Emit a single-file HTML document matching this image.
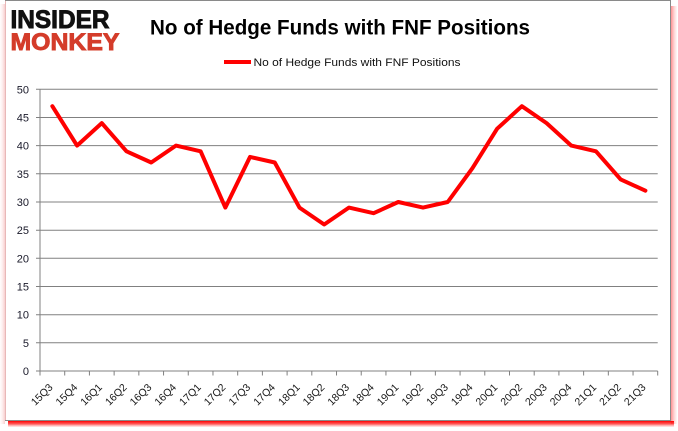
<!DOCTYPE html>
<html><head><meta charset="utf-8"><style>
html,body{margin:0;padding:0;background:#fff;}
svg{display:block;}
</style></head><body>
<svg width="678" height="431" viewBox="0 0 678 431" xmlns="http://www.w3.org/2000/svg" font-family="'Liberation Sans', sans-serif">
<defs>
<linearGradient id="sb" x1="0" y1="0" x2="0" y2="1">
<stop offset="0" stop-color="#ff0000" stop-opacity="1"/>
<stop offset="0.5" stop-color="#ff3030" stop-opacity="0.8"/>
<stop offset="1" stop-color="#ff8080" stop-opacity="0.15"/>
</linearGradient>
<linearGradient id="sr" x1="0" y1="0" x2="1" y2="0">
<stop offset="0" stop-color="#ff6060" stop-opacity="0.7"/>
<stop offset="1" stop-color="#ffb0b0" stop-opacity="0.1"/>
</linearGradient>
<linearGradient id="sl" x1="1" y1="0" x2="0" y2="0">
<stop offset="0" stop-color="#f7c8c8" stop-opacity="0.9"/>
<stop offset="1" stop-color="#fff0f0" stop-opacity="0.2"/>
</linearGradient>
</defs>
<rect x="0" y="0" width="678" height="431" fill="#fff"/>
<!-- shadows -->
<rect x="0" y="4" width="5" height="420" fill="url(#sl)"/>
<rect x="671" y="6" width="6" height="418" fill="url(#sr)"/>
<rect x="8" y="421" width="666" height="6" fill="url(#sb)"/>
<!-- frame -->
<rect x="5.5" y="0.5" width="665" height="420" fill="#fff" stroke="#8a8a8a" stroke-width="1"/>
<line x1="5.5" y1="1" x2="5.5" y2="420" stroke="#e8b8b8" stroke-width="1"/>

<!-- logo -->
<text x="10.5" y="28" font-size="25" font-weight="bold" fill="#111" stroke="#111" stroke-width="0.9" textLength="99" lengthAdjust="spacingAndGlyphs">INSIDER</text>
<text x="10.5" y="50" font-size="24" font-weight="bold" fill="#d43c2a" stroke="#d43c2a" stroke-width="0.9" textLength="109" lengthAdjust="spacingAndGlyphs">MONKEY</text>

<!-- title -->
<text x="150" y="34.5" font-size="21" font-weight="bold" fill="#000" textLength="380" lengthAdjust="spacingAndGlyphs">No of Hedge Funds with FNF Positions</text>

<!-- legend -->
<line x1="224" y1="62" x2="251" y2="62" stroke="#ff0000" stroke-width="4"/>
<text x="253.5" y="66" font-size="11" fill="#111" textLength="207" lengthAdjust="spacingAndGlyphs">No of Hedge Funds with FNF Positions</text>

<!-- gridlines -->
<g stroke="#808080" stroke-width="1">
<line x1="36" y1="342.8" x2="657.7" y2="342.8"/>
<line x1="36" y1="314.7" x2="657.7" y2="314.7"/>
<line x1="36" y1="286.5" x2="657.7" y2="286.5"/>
<line x1="36" y1="258.3" x2="657.7" y2="258.3"/>
<line x1="36" y1="230.2" x2="657.7" y2="230.2"/>
<line x1="36" y1="202.0" x2="657.7" y2="202.0"/>
<line x1="36" y1="173.8" x2="657.7" y2="173.8"/>
<line x1="36" y1="145.6" x2="657.7" y2="145.6"/>
<line x1="36" y1="117.5" x2="657.7" y2="117.5"/>
<line x1="36" y1="89.3" x2="657.7" y2="89.3"/>
<line x1="36" y1="371" x2="657.7" y2="371"/>
<line x1="40" y1="89.3" x2="40" y2="371"/>
</g>
<!-- x ticks -->
<g stroke="#808080" stroke-width="1">
<line x1="40" y1="371" x2="40" y2="375.5"/>
<line x1="64.71" y1="371" x2="64.71" y2="375.5"/>
<line x1="89.42" y1="371" x2="89.42" y2="375.5"/>
<line x1="114.13" y1="371" x2="114.13" y2="375.5"/>
<line x1="138.84" y1="371" x2="138.84" y2="375.5"/>
<line x1="163.55" y1="371" x2="163.55" y2="375.5"/>
<line x1="188.26" y1="371" x2="188.26" y2="375.5"/>
<line x1="212.97" y1="371" x2="212.97" y2="375.5"/>
<line x1="237.68" y1="371" x2="237.68" y2="375.5"/>
<line x1="262.39" y1="371" x2="262.39" y2="375.5"/>
<line x1="287.1" y1="371" x2="287.1" y2="375.5"/>
<line x1="311.81" y1="371" x2="311.81" y2="375.5"/>
<line x1="336.52" y1="371" x2="336.52" y2="375.5"/>
<line x1="361.23" y1="371" x2="361.23" y2="375.5"/>
<line x1="385.94" y1="371" x2="385.94" y2="375.5"/>
<line x1="410.65" y1="371" x2="410.65" y2="375.5"/>
<line x1="435.36" y1="371" x2="435.36" y2="375.5"/>
<line x1="460.07" y1="371" x2="460.07" y2="375.5"/>
<line x1="484.78" y1="371" x2="484.78" y2="375.5"/>
<line x1="509.49" y1="371" x2="509.49" y2="375.5"/>
<line x1="534.2" y1="371" x2="534.2" y2="375.5"/>
<line x1="558.91" y1="371" x2="558.91" y2="375.5"/>
<line x1="583.62" y1="371" x2="583.62" y2="375.5"/>
<line x1="608.33" y1="371" x2="608.33" y2="375.5"/>
<line x1="633.04" y1="371" x2="633.04" y2="375.5"/>
<line x1="657.7" y1="371" x2="657.7" y2="375.5"/>
</g>

<!-- y labels -->
<g font-size="11" fill="#1a1a2a" text-anchor="end">
<text x="29" y="375">0</text>
<text x="29" y="346.8">5</text>
<text x="29" y="318.7">10</text>
<text x="29" y="290.5">15</text>
<text x="29" y="262.3">20</text>
<text x="29" y="234.2">25</text>
<text x="29" y="206">30</text>
<text x="29" y="177.8">35</text>
<text x="29" y="149.6">40</text>
<text x="29" y="121.5">45</text>
<text x="29" y="93.3">50</text>
</g>

<!-- x labels -->
<g font-size="10.5" fill="#1a1a1a" text-anchor="end">
<text transform="translate(53.4,388) rotate(-45)">15Q3</text>
<text transform="translate(78.1,388) rotate(-45)">15Q4</text>
<text transform="translate(102.8,388) rotate(-45)">16Q1</text>
<text transform="translate(127.5,388) rotate(-45)">16Q2</text>
<text transform="translate(152.2,388) rotate(-45)">16Q3</text>
<text transform="translate(176.9,388) rotate(-45)">16Q4</text>
<text transform="translate(201.6,388) rotate(-45)">17Q1</text>
<text transform="translate(226.3,388) rotate(-45)">17Q2</text>
<text transform="translate(251.0,388) rotate(-45)">17Q3</text>
<text transform="translate(275.8,388) rotate(-45)">17Q4</text>
<text transform="translate(300.5,388) rotate(-45)">18Q1</text>
<text transform="translate(325.2,388) rotate(-45)">18Q2</text>
<text transform="translate(349.9,388) rotate(-45)">18Q3</text>
<text transform="translate(374.6,388) rotate(-45)">18Q4</text>
<text transform="translate(399.3,388) rotate(-45)">19Q1</text>
<text transform="translate(424.0,388) rotate(-45)">19Q2</text>
<text transform="translate(448.7,388) rotate(-45)">19Q3</text>
<text transform="translate(473.4,388) rotate(-45)">19Q4</text>
<text transform="translate(498.1,388) rotate(-45)">20Q1</text>
<text transform="translate(522.9,388) rotate(-45)">20Q2</text>
<text transform="translate(547.6,388) rotate(-45)">20Q3</text>
<text transform="translate(572.3,388) rotate(-45)">20Q4</text>
<text transform="translate(597.0,388) rotate(-45)">21Q1</text>
<text transform="translate(621.7,388) rotate(-45)">21Q2</text>
<text transform="translate(646.4,388) rotate(-45)">21Q3</text>
</g>

<!-- series -->
<polyline fill="none" stroke="#ff0000" stroke-width="4" stroke-linejoin="round" stroke-linecap="round"
points="52.36,106.2 77.07,145.6 101.78,123.1 126.49,151.3 151.2,162.5 175.91,145.6 200.62,151.3 225.33,207.6 250.04,156.9 274.75,162.5 299.46,207.6 324.17,224.5 348.88,207.6 373.59,213.2 398.3,202.0 423.01,207.6 447.72,202.0 472.43,168.2 497.14,128.7 521.85,106.2 546.56,123.1 571.27,145.6 595.98,151.3 620.69,179.4 645.4,190.7"/>
</svg>
</body></html>
